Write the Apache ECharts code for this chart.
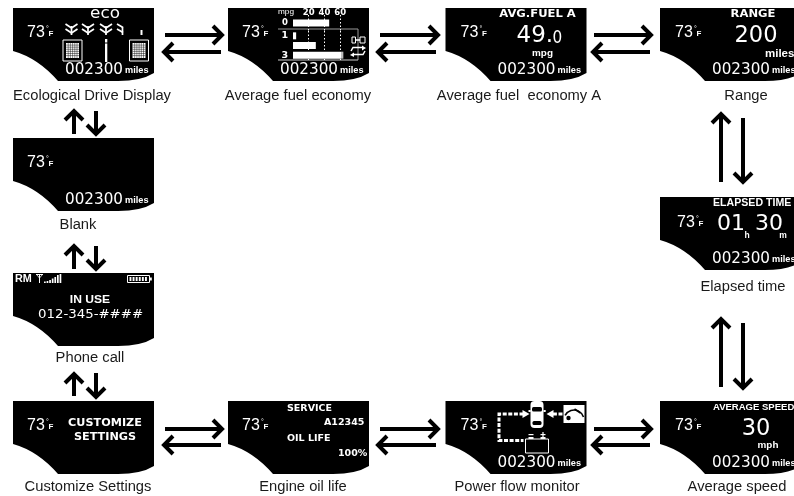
<!DOCTYPE html>
<html><head><meta charset="utf-8">
<style>html,body{margin:0;padding:0;background:#fff}#c{width:794px;height:496px}</style>
<script src="https://cdn.jsdelivr.net/npm/echarts@6/dist/echarts.min.js"></script>
</head><body><div id="c"></div>
<script>
// ---- content ----
var screenIds = ['eco','fuel','fuelA','range','blank','elapsed','phone','custom','oil','power','speed'];
var captions = ['Ecological Drive Display','Average fuel economy','Average fuel  economy A','Range','Blank','Elapsed time','Phone call','Customize Settings','Engine oil life','Power flow monitor','Average speed'];
var temperature = '73';
var odometer = '002300';
var odometerUnit = 'miles';
var fuelTicks = [20,40,60];
var fuelTripLabels = ['1','2','3'];
var fuelCurrentLabels = ['0'];
var fuelCurrent = [46];
var fuelTrips = [4,29,61];
var fuelTripsOver = [0,0,3];
var avgFuelValue = ['49.','0'];
var rangeValue = '200';
var elapsedValue = ['01','30'];
var speedValue = '30';
var serviceCode = 'A12345';
var oilLife = '100%';
var phoneNumber = '012-345-####';

// ---- layout (separate from the content above) ----
var PW = 141, PH = 73;
var panelPos = {eco:[13,8],fuel:[228,8],fuelA:[445.5,8],range:[660,8],blank:[13,138],elapsed:[660,197],phone:[13,273],custom:[13,401],oil:[228,401],power:[445.5,401],speed:[660,401]};
var captionPos = {eco:[92,96],fuel:[298,96],fuelA:[519,96],range:[746,96],blank:[78,225],elapsed:[743,287],phone:[90,358],custom:[88,487],oil:[303,487],power:[517,487],speed:[737,487]};
var arrowSegs = [
 [165,35,222,35],[221,52,164,52],[380,35,438,35],[436,52,378,52],[594,35,651,35],[650,52,593,52],
 [165,429,222,429],[221,445,164,445],[380,429,438,429],[436,445,378,445],[594,429,651,429],[650,445,593,445],
 [74,134,74,111],[96,111,96,134],[74,269,74,246],[96,246,96,269],[74,396,74,374],[96,373,96,397],
 [721,182,721,114],[743,118,743,182],[721,387,721,319],[743,323,743,388]
];
var W='#fff', K='#000';
var NUM='"DejaVu Sans"', SAN='"Liberation Sans"';

function T(text,x,y,font,o){o=o||{};return {type:'text',x:x,y:y,scaleX:o.sx||1,style:{text:text,x:0,y:0,fill:o.fill||W,font:font,textAlign:o.align||'left',textVerticalAlign:'middle'}};}
function L(pts,w,o){o=o||{};return {type:'polyline',shape:{points:pts},style:{fill:null,stroke:o.stroke||W,lineWidth:w,lineDash:o.dash||null,lineJoin:'miter',lineCap:'butt'}};}
function R(x,y,w,h,fill,stroke,lw,r){return {type:'rect',shape:{x:x,y:y,width:w,height:h,r:r||0},style:{fill:fill||null,stroke:stroke||null,lineWidth:lw||0}};}
function tri(pts){return {type:'polygon',shape:{points:pts},style:{fill:W}};}

function temp(dx,dy){dx=dx||14;dy=dy||25;return [
  T(temperature,dx,dy,'16px '+SAN),
  T('°',dx+19,dy-4,'7px '+SAN),
  T('F',dx+21.5,dy+1,'bold 8px '+SAN)
];}
function odo(){return [
  T(odometer,52,62.5,'15.2px '+NUM),
  T(odometerUnit,112,63,'bold 8.4px '+SAN,{sx:1.1})
];}
function mesh(x,y){var c=[R(x,y,19,21,null,W,1),R(x+3,y+3,13,15,W)];
  for(var i=1;i<6;i++)c.push(L([[x+3+i*2.2,y+3],[x+3+i*2.2,y+18]],.45,{stroke:K}));
  for(i=1;i<7;i++)c.push(L([[x+3,y+3+i*2.1],[x+16,y+3+i*2.1]],.45,{stroke:K}));
  return c;}
function tree(cx){return [
  L([[cx-6,16],[cx,20],[cx+6,16]],1.7),
  L([[cx-6,21],[cx,25],[cx+6,21]],1.7),
  L([[cx,18],[cx,27]],1.7)];}
function halfTree(cx){return [L([[cx-3,16],[cx+3,19.5]],1.7),L([[cx-3,21],[cx+3,24.5]],1.7),L([[cx+2.5,19],[cx+2.5,27]],1.7)];}

var painters = {
 eco:function(){var c=temp();
  c.push(T('eco',92,6,'15px '+NUM,{align:'center',sx:1.12}));
  c=c.concat(tree(58.5),tree(75),tree(93),halfTree(107));
  c=c.concat(mesh(50,32),mesh(116.5,32));
  c.push(R(92,31,2.3,3.5,W),R(92,35.5,2.3,18.5,W),R(127.5,22,2,5,W));
  return c.concat(odo());},
 fuel:function(){var c=temp();
  c.push(T('mpg',50,4,'7.5px '+SAN,{sx:1.1}));
  c.push(L([[50,21],[130,21],[130,52]],1,{stroke:'#999'}),L([[50,52],[130,52]],1,{stroke:'#ccc'}));
  // engine and cycle icons
  c.push(R(124,29,3.5,6,null,W,1),L([[127,32],[132,32]],1.5),R(132,29,5,6,null,W,1));
  c.push(L([[123,43],[125,39.5],[134,39.5]],1.5),tri([[134,37.5],[138,40],[134,42.5]]));
  c.push(L([[137,43],[135,46.5],[126,46.5]],1.5),tri([[126,44.5],[122,47],[126,49]]));
  return c.concat(odo());},
 fuelA:function(){var c=temp(15);
  c.push(T('AVG.FUEL A',92,6.5,'bold 10.5px '+NUM,{align:'center',sx:1.1}));
  c.push(T(avgFuelValue[0],71,28,'23px '+NUM));
  c.push(T(avgFuelValue[1],107,30,'18px '+NUM,{sx:.85}));
  c.push(T('mpg',97,46,'bold 9px '+SAN,{align:'center',sx:1.1}));
  return c.concat(odo());},
 range:function(){var c=temp(15);
  c.push(T('RANGE',93,6.5,'bold 10.5px '+NUM,{align:'center',sx:1.1}));
  c.push(T(rangeValue,96,28,'22.5px '+NUM,{align:'center'}));
  c.push(T('miles',105,46,'bold 10px '+SAN,{sx:1.15}));
  return c.concat(odo());},
 blank:function(){return temp().concat(odo());},
 elapsed:function(){var c=temp(17,26);
  c.push(T('ELAPSED TIME',53,6.5,'bold 10px '+SAN,{sx:1.06}));
  c.push(T(elapsedValue[0],57,27.5,'22px '+NUM));
  c.push(T(elapsedValue[1],95,27.5,'22px '+NUM));
  c.push(T('h',87,38.5,'bold 8.5px '+SAN,{align:'center'}));
  c.push(T('m',123,38.5,'bold 8.5px '+SAN,{align:'center'}));
  return c.concat(odo());},
 phone:function(){var c=[];
  c.push(T('RM',2,6.5,'bold 10.5px '+SAN,{sx:1.03}));
  c.push(L([[23,1.5],[30,1.5]],1),L([[26.5,1.5],[26.5,10]],1),L([[23.5,1.5],[26.5,5],[29.5,1.5]],.8));
  [1.5,2,3,4.5,6,8,9].forEach(function(h,i){c.push(R(31+i*2.6,10-h,1.7,h,W));});
  c.push(R(114.5,2.5,22,7,null,W,1));
  for(var i=0;i<6;i++)c.push(R(116.5+i*3.1,4,1.9,4,W));
  c.push(R(137,4.5,1.8,3,W));
  c.push(T('IN USE',77,27,'bold 11px '+SAN,{align:'center',sx:1.1}));
  c.push(T(phoneNumber,25,42,'12px '+NUM,{sx:1.11}));
  return c;},
 custom:function(){var c=temp(14,25);
  c.push(T('CUSTOMIZE',92,22,'bold 11px '+NUM,{align:'center',sx:1.02}));
  c.push(T('SETTINGS',92,36,'bold 11px '+NUM,{align:'center',sx:1.02}));
  return c;},
 oil:function(){var c=temp(14,25);
  c.push(T('SERVICE',59,7.5,'bold 9.5px '+NUM));
  c.push(T(serviceCode,96,22,'bold 9.5px '+NUM));
  c.push(T('OIL LIFE',59,38,'bold 9.5px '+NUM));
  c.push(T(oilLife,110,53,'bold 9.5px '+NUM));
  return c;},
 power:function(){var c=temp(15,25);
  // flow paths
  c.push(L([[78,13],[53.5,13],[53.5,39.5],[78,39.5]],3,{dash:[4,1.6]}));
  c.push(tri([[77,9],[84,13],[77,17]]));
  c.push(L([[117,13],[107,13]],3,{dash:[4,1.6]}));
  c.push(tri([[108,9],[101,13],[108,17]]));
  // car
  c.push(R(85,0,13,27,W,null,0,4));
  c.push(R(86.5,6,10,4.5,K,null,0,1.5),R(87,20,9,4,K,null,0,1.5));
  c.push(R(83,9,2.2,2,W),R(98,9,2.2,2,W));
  // fuel gauge
  c.push(R(118,4,21,18,W));
  c.push({type:'arc',shape:{cx:128.5,cy:19,r:10,startAngle:Math.PI*1.15,endAngle:Math.PI*1.9},style:{fill:null,stroke:K,lineWidth:1.6}});
  c.push(L([[129,8],[135,12]],1.6,{stroke:K}));
  c.push({type:'circle',shape:{cx:123,cy:17,r:2.2},style:{fill:K}});
  // battery
  c.push(R(80,38,23,14,null,W,1));
  c.push(R(83,36,5,2,W),R(95,36,5,2,W),R(83,33,5,1.2,W),R(95,33,5,1.2,W),R(96.9,31,1.2,5,W));
  return c.concat(odo());},
 speed:function(){var c=temp(15,25);
  c.push(T('AVERAGE SPEED',53,6.5,'bold 8.5px '+SAN,{sx:1.12}));
  c.push(T(speedValue,96,28,'22.5px '+NUM,{align:'center'}));
  c.push(T('mph',108,45,'bold 9px '+SAN,{align:'center',sx:1.1}));
  return c.concat(odo());}
};
var PANEL='M0,0 H141 V65 Q128,73 105,73 H45 Q25,50 0,43 Z';

function renderScreen(params,api){
  var id=screenIds[api.value(0)], p=panelPos[id], o=api.coord(p);
  var kids=[{type:'path',shape:{pathData:PANEL,x:0,y:0,width:PW,height:PH,layout:'cover'},style:{fill:K}}].concat(painters[id]());
  return {type:'group',x:o[0],y:o[1],children:kids};
}
function renderCaption(params,api){
  var i=api.value(0), p=captionPos[screenIds[i]], o=api.coord(p);
  return {type:'text',x:o[0],y:o[1],scaleX:0.95,style:{text:captions[i],x:0,y:0,fill:'#1a1a1a',font:'15.5px '+SAN,textAlign:'center',textVerticalAlign:'middle'}};
}
function renderArrow(params,api){
  var a=api.coord([api.value(0),api.value(1)]), b=api.coord([api.value(2),api.value(3)]);
  var dx=b[0]-a[0],dy=b[1]-a[1],len=Math.sqrt(dx*dx+dy*dy),ux=dx/len,uy=dy/len,nx=-uy,ny=ux,h=9;
  return {type:'group',children:[
    L([a,[b[0]-ux*1.5,b[1]-uy*1.5]],4,{stroke:K}),
    L([[b[0]-ux*h+nx*h,b[1]-uy*h+ny*h],b,[b[0]-ux*h-nx*h,b[1]-uy*h-ny*h]],4,{stroke:K})
  ]};
}

var fp=panelPos.fuel;
var xCommon={type:'value',min:0,max:75,interval:20,z:4,
  axisLine:{show:false},axisTick:{show:false},
  splitLine:{show:true,showMinLine:false,showMaxLine:false,lineStyle:{color:W,width:1,type:[1.5,2]}}};
var chart=echarts.init(document.getElementById('c'),null,{renderer:'canvas'});
chart.setOption({
  animation:false,
  backgroundColor:'#fff',
  grid:[
    {left:0,top:0,width:794,height:496},
    {left:fp[0]+65,top:fp[1]+7,width:59,height:16},
    {left:fp[0]+65,top:fp[1]+23,width:59,height:29}
  ],
  xAxis:[
    {type:'value',min:0,max:794,show:false,gridIndex:0},
    Object.assign({},xCommon,{gridIndex:1,position:'top',axisLabel:{show:true,color:W,margin:-2,showMinLabel:false,showMaxLabel:false,fontFamily:'DejaVu Sans',fontWeight:'bold',fontSize:8.5}}),
    Object.assign({},xCommon,{gridIndex:2,axisLabel:{show:false}})
  ],
  yAxis:[
    {type:'value',min:0,max:496,inverse:true,show:false,gridIndex:0},
    {type:'category',z:4,gridIndex:1,data:fuelCurrentLabels,axisLine:{show:false},axisTick:{show:false},axisLabel:{color:W,margin:5,fontFamily:'DejaVu Sans',fontWeight:'bold',fontSize:8.5}},
    {type:'category',z:4,gridIndex:2,inverse:true,data:fuelTripLabels,axisLine:{show:false},axisTick:{show:false},axisLabel:{color:W,margin:5,fontFamily:'DejaVu Sans',fontWeight:'bold',fontSize:9.5}}
  ],
  series:[
    {type:'custom',name:'screens',xAxisIndex:0,yAxisIndex:0,z:1,clip:false,silent:true,renderItem:renderScreen,encode:{x:[],y:[]},data:screenIds.map(function(s,i){return [i];})},
    {type:'custom',name:'captions',xAxisIndex:0,yAxisIndex:0,z:1,clip:false,silent:true,renderItem:renderCaption,encode:{x:[],y:[]},data:captions.map(function(s,i){return [i];})},
    {type:'custom',name:'arrows',xAxisIndex:0,yAxisIndex:0,z:1,clip:false,silent:true,renderItem:renderArrow,encode:{x:[0,2],y:[1,3]},data:arrowSegs},
    {type:'bar',xAxisIndex:1,yAxisIndex:1,z:5,barWidth:7,silent:true,itemStyle:{color:W},data:fuelCurrent},
    {type:'bar',xAxisIndex:2,yAxisIndex:2,z:5,stack:'t',barWidth:7,silent:true,itemStyle:{color:W},data:fuelTrips},
    {type:'bar',xAxisIndex:2,yAxisIndex:2,z:5,stack:'t',barWidth:7,silent:true,itemStyle:{color:'#bbb'},data:fuelTripsOver}
  ]
});
</script></body></html>
